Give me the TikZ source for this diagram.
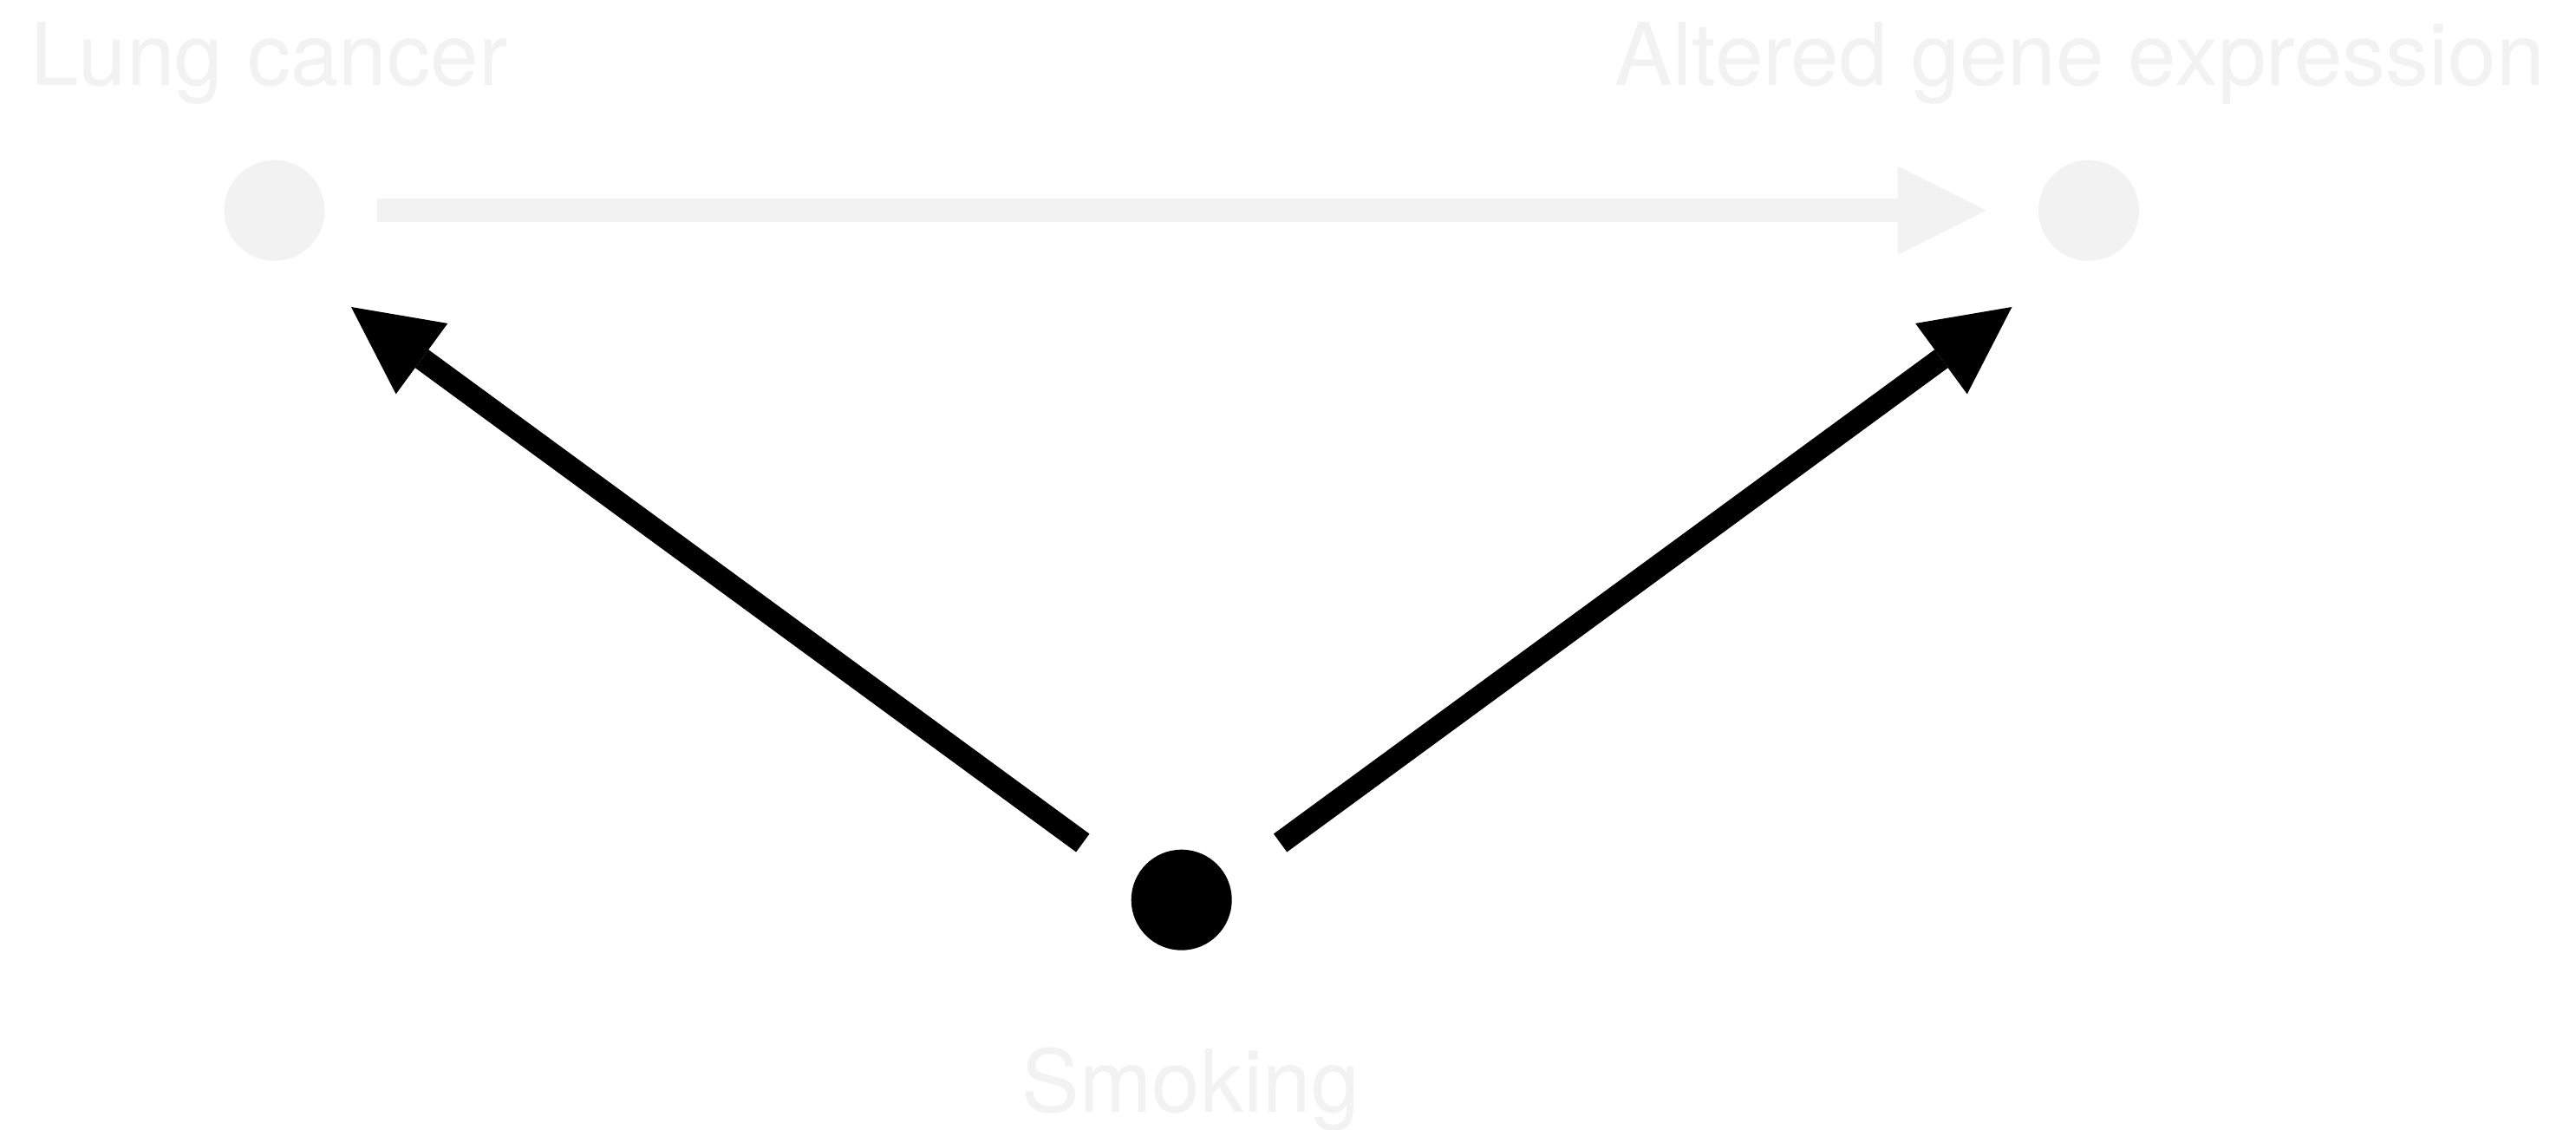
\documentclass[tikz,border=0pt]{standalone}
\usepackage{fontspec}
\setmainfont{TeX Gyre Heros}
\usetikzlibrary{arrows.meta,calc}
\definecolor{lightgr}{HTML}{F2F2F2}
\begin{document}
\begin{tikzpicture}[
  dot/.style={circle, minimum size=1.16cm, inner sep=0pt, fill=#1},
  lbl/.style={anchor=base west, inner sep=0pt, text=lightgr, font=\fontsize{28.45pt}{34pt}\selectfont},
  greyarrow/.style={draw=lightgr, line width=0.27cm, -{Triangle[length=1.02cm,width=1.02cm,line width=0pt]}},
  blackarrow/.style={draw=black, line width=0.26cm, -{Triangle[length=1.01cm,width=1.01cm,line width=0pt]}}
]
\useasboundingbox (0,0) rectangle (29.71,-13.03);
\fill[white] (0,0) rectangle (29.71,-13.03);
% nodes
\node[dot=lightgr] (lc) at (3.165,-2.427) {};
\node[dot=lightgr] (ag) at (24.09,-2.427) {};
\node[dot=black]   (smk) at (13.627,-10.377) {};
% labels
\node[lbl] (lclbl) at (0.35,-0.99) {Lung cancer};
\node[lbl] (aglbl) at (18.62,-0.99) {Altered gene expression};
\node[lbl] (smklbl) at (11.78,-12.827) {Smoking};
% connectors
\draw[greyarrow, shorten <=1.185cm, shorten >=1.183cm] (lc.center) -- (ag.center);
\draw[blackarrow] ($(smk.center)+(-1.139,0.657)$) -- ($(lc.center)+(0.885,-1.113)$);
\draw[blackarrow] ($(smk.center)+(1.139,0.657)$) -- ($(ag.center)+(-0.886,-1.113)$);
\end{tikzpicture}
\end{document}
